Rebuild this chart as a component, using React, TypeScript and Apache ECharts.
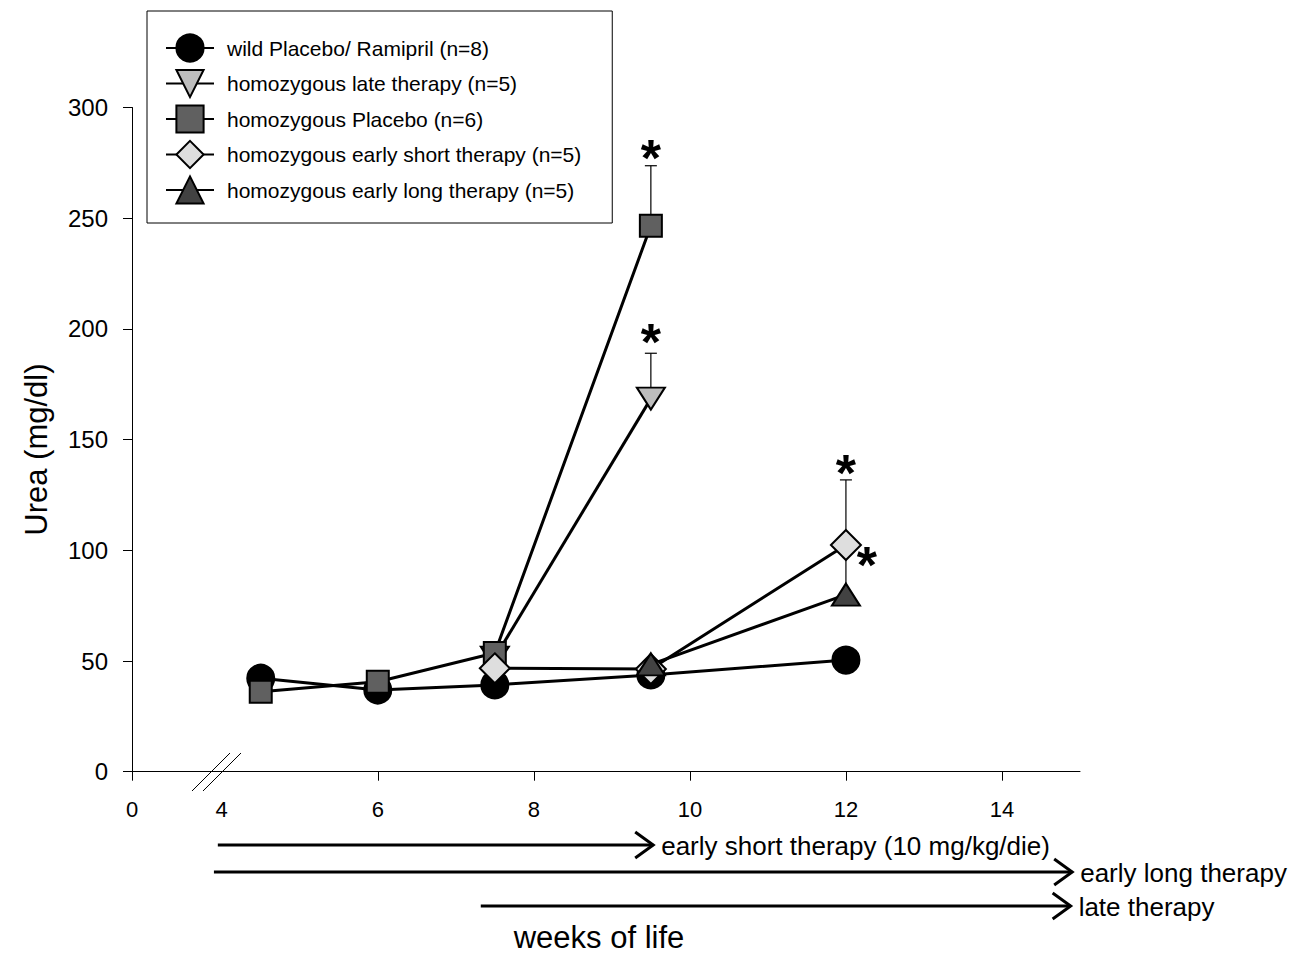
import React, { useEffect, useRef } from "react";
import * as echarts from "echarts";

// ---- data (weeks of life, urea mg/dl) ----
const xAxisStart = 2.85; // position of the "0" on the broken axis
const xAxisEnd = 15;
const xTickWeeks = [6, 8, 10, 12, 14];
const xLabelWeeks = [4, 6, 8, 10, 12, 14];

const seriesNames = [
  "wild Placebo/ Ramipril (n=8)",
  "homozygous late therapy (n=5)",
  "homozygous Placebo (n=6)",
  "homozygous early short therapy (n=5)",
  "homozygous early long therapy (n=5)",
];

const wildPlacebo = [[4.5, 42.2], [6, 36.9], [7.5, 39.2], [9.5, 43.7], [12, 50.4]];
const lateTherapy = [[7.5, 51.5], [9.5, 168.5]];
const homPlacebo = [[4.5, 36.1], [6, 40.6], [7.5, 53.6], [9.5, 246.6]];
const earlyShort = [[7.5, 46.7], [9.5, 46.4], [12, 102.4]];
const earlyLong = [[9.5, 48.5], [12, 80]];

// [week, mean, mean + SD]
const errorBars = [
  [7.5, 53.6, 57],
  [9.5, 246.6, 273.7],
  [9.5, 168.5, 189],
  [12, 102.4, 131.8],
  [12, 80, 101],
];
// significance asterisks [week, value]
const significance = [[9.5, 280.3], [9.5, 197.2], [12, 138.1], [12.27, 96.5]];

const therapies = [
  { label: "early short therapy (10 mg/kg/die)", start: 3.95, end: 9.53 },
  { label: "early long therapy", start: 3.9, end: 14.9 },
  { label: "late therapy", start: 7.32, end: 14.88 },
];

const SANS = "Liberation Sans, Arial, Helvetica, sans-serif";

function lineSeries(name: string, data: number[][], symbol: string, size: any, fill: string, rotate = 0) {
  return {
    name,
    type: "line",
    data,
    symbol,
    symbolSize: size,
    symbolRotate: rotate,
    showSymbol: true,
    lineStyle: { color: "#000", width: 3 },
    itemStyle: { color: fill, borderColor: "#000", borderWidth: 2 },
    emphasis: { disabled: true },
    z: 2,
  };
}

export default function App() {
  const ref = useRef<HTMLDivElement>(null);
  useEffect(() => {
    if (!ref.current) return;
    const chart = echarts.init(ref.current, undefined, { renderer: "svg" });
    const option: any = {
      animation: false,
      backgroundColor: "#fff",
      grid: { left: 132, right: 209, top: 107.5, bottom: 181.3, containLabel: false },
      legend: {
        orient: "vertical",
        left: 147,
        top: 11,
        padding: [22.4, 31, 18.4, 18],
        itemWidth: 48,
        itemHeight: 34,
        itemGap: 6.3,
        borderColor: "#000",
        borderWidth: 1,
        selectedMode: false,
        textStyle: { fontSize: 21, color: "#000", fontFamily: SANS, padding: [0, 0, 0, 8] },
        data: seriesNames,
      },
      xAxis: {
        type: "value",
        min: xAxisStart,
        max: xAxisEnd,
        axisLine: { show: true, onZero: false, lineStyle: { color: "#000", width: 1 } },
        splitLine: { show: false },
        axisTick: {
          show: true,
          length: 9,
          customValues: [xAxisStart, ...xTickWeeks],
          lineStyle: { color: "#000" },
        },
        axisLabel: {
          customValues: [xAxisStart, ...xLabelWeeks],
          formatter: (v: number) => (v < 3 ? "0" : String(Math.round(v))),
          fontSize: 22,
          color: "#000",
          fontFamily: SANS,
          margin: 27,
        },
      },
      yAxis: {
        type: "value",
        min: 0,
        max: 300,
        interval: 50,
        name: "Urea (mg/dl)",
        nameLocation: "middle",
        nameGap: 80,
        nameTextStyle: { fontSize: 31, color: "#000", fontFamily: SANS, padding: [0, 20, 0, 0] },
        axisLine: { show: true, lineStyle: { color: "#000", width: 1 } },
        splitLine: { show: false },
        axisTick: { show: true, length: 9, lineStyle: { color: "#000" } },
        axisLabel: { fontSize: 24, color: "#000", fontFamily: SANS, margin: 24 },
      },
      series: [
        {
          name: "errors",
          type: "custom",
          z: 1,
          clip: false,
          data: errorBars,
          encode: { x: 0, y: 1 },
          renderItem: (params: any, api: any) => {
            const x = api.value(0);
            const p0 = api.coord([x, api.value(1)]);
            const p1 = api.coord([x, api.value(2)]);
            return {
              type: "group",
              children: [
                { type: "line", shape: { x1: p0[0], y1: p0[1], x2: p1[0], y2: p1[1] }, style: { stroke: "#000", lineWidth: 1.2 } },
                { type: "line", shape: { x1: p1[0] - 6, y1: p1[1], x2: p1[0] + 6, y2: p1[1] }, style: { stroke: "#000", lineWidth: 1.2 } },
              ],
            };
          },
        },
        lineSeries(seriesNames[0], wildPlacebo, "circle", 27, "#000000"),
        lineSeries(seriesNames[1], lateTherapy, "triangle", [28, 22], "#bdbdbd", 180),
        lineSeries(seriesNames[2], homPlacebo, "rect", 22, "#606060"),
        lineSeries(seriesNames[3], earlyShort, "diamond", [30, 30], "#dedede"),
        lineSeries(seriesNames[4], earlyLong, "triangle", [28, 22], "#424242"),
        {
          name: "significance",
          type: "custom",
          z: 3,
          clip: false,
          data: significance,
          encode: { x: 0, y: 1 },
          renderItem: (params: any, api: any) => {
            const p = api.coord([api.value(0), api.value(1)]);
            return {
              type: "text",
              x: p[0],
              y: p[1] + 7,
              style: {
                text: "*",
                fontSize: 52,
                fontWeight: "bold",
                fontFamily: SANS,
                fill: "#000",
                align: "center",
                verticalAlign: "middle",
              },
            };
          },
        },
      ],
    };
    chart.setOption(option);

    const px = (w: number) => chart.convertToPixel({ xAxisIndex: 0 }, w) as number;
    const arrowY = [845, 872, 906];
    const graphic: any[] = [
      // axis break marks
      { type: "line", shape: { x1: 192, y1: 791, x2: 230, y2: 753 }, style: { stroke: "#000", lineWidth: 1 } },
      { type: "line", shape: { x1: 203, y1: 791, x2: 241, y2: 753 }, style: { stroke: "#000", lineWidth: 1 } },
      {
        type: "text",
        x: 599,
        y: 937,
        style: { text: "weeks of life", fontSize: 31, fontFamily: SANS, fill: "#000", align: "center", verticalAlign: "middle" },
      },
    ];
    therapies.forEach((t, i) => {
      const x1 = px(t.start);
      const x2 = px(t.end);
      const y = arrowY[i];
      graphic.push({ type: "line", shape: { x1, y1: y, x2, y2: y }, style: { stroke: "#000", lineWidth: 3 } });
      graphic.push({
        type: "polyline",
        shape: { points: [[x2 - 18, y - 13], [x2, y], [x2 - 18, y + 13]] },
        style: { stroke: "#000", lineWidth: 3, fill: null },
      });
      graphic.push({
        type: "text",
        x: x2 + 8,
        y: y + 1,
        style: { text: t.label, fontSize: 26, fontFamily: SANS, fill: "#000", align: "left", verticalAlign: "middle" },
      });
    });
    chart.setOption({ graphic });

    return () => chart.dispose();
  }, []);
  return (
    <div
      ref={ref}
      style={{ position: "fixed", left: 0, top: 0, width: 1289, height: 953, background: "#fff" }}
    />
  );
}
